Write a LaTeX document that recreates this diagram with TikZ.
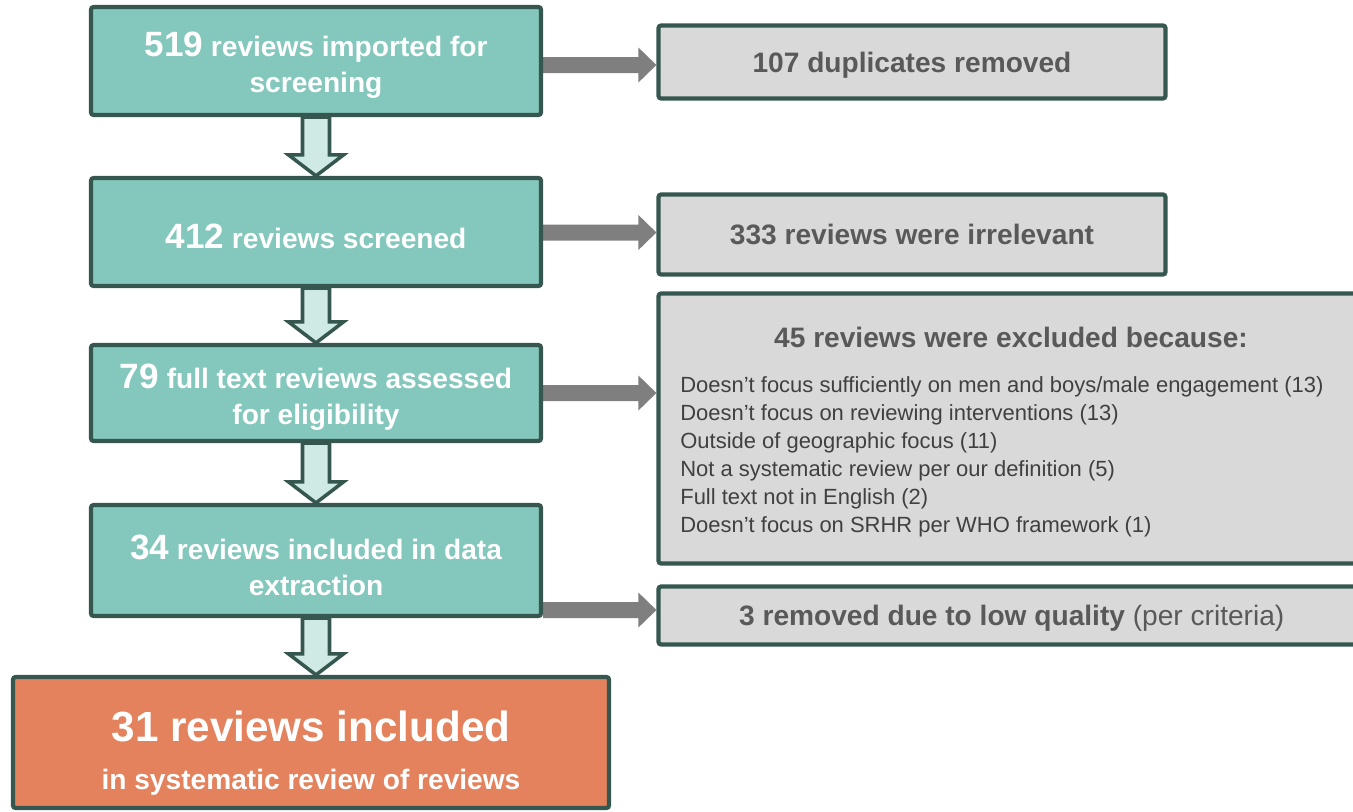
\documentclass[tikz,border=0pt]{standalone}
\usepackage{fontspec}
\setmainfont{Liberation Sans}
\usepackage{xcolor}
\definecolor{cTeal}{HTML}{84C7BC}
\definecolor{cEdge}{HTML}{36574F}
\definecolor{cFlow}{HTML}{CFE9E4}
\definecolor{cOrange}{HTML}{E3825D}
\definecolor{cBox}{HTML}{D9D9D9}
\definecolor{cArrow}{HTML}{7F7F7F}
\definecolor{cGray}{HTML}{595959}
\definecolor{cText}{HTML}{404040}
\usepackage{tikz}
\usetikzlibrary{calc,backgrounds}
\tikzset{
  node-step/.style={draw=cEdge,line width=2.4pt,rounded corners=1.5pt,fill=cTeal,
    text=white,minimum width=9cm,align=center,font=\fontsize{16}{20.5}\selectfont\bfseries},
  node-final/.style={node-step,fill=cOrange,minimum width=11.92cm,minimum height=2.62cm,
    font=\fontsize{16}{27.3}\selectfont\bfseries},
  node-out/.style={draw=cEdge,line width=2.4pt,rounded corners=1.5pt,fill=cBox,
    text=cGray,align=center,font=\fontsize{16}{19}\selectfont},
  arrow-flow/.style={draw=cEdge,line width=2pt,fill=cFlow},
  arrow-side/.style={fill=cArrow},
  list-text/.style={text=cText,align=left,inner sep=0pt,font=\fontsize{12.5}{16}\selectfont},
}
% big count at the start of a box
\newcommand{\bignum}[1]{{\fontsize{20}{20.5}\selectfont\rule{0pt}{19pt}#1}}
% block arrow down, from box #1 to box #2
\newcommand{\flowdown}[2]{%
  \coordinate (tip) at (#1.south |- #2.north);
  \filldraw[arrow-flow] ($(#1.south)+(-0.27,0)$) -- ($(tip)+(-0.27,0.42)$) -- ++(-0.28,0)
    -- (tip) -- ++(0.55,0.42) -- ++(-0.28,0) -- ($(#1.south)+(0.27,0)$) -- cycle;}
% grey arrow right, from box #1 to box #2 at height #3
\newcommand{\flowside}[3]{%
  \fill[arrow-side] ($(#1.east|-0,#3)+(0,0.16)$) -- ($(#2.west|-0,#3)+(-0.36,0.16)$) -- ++(0,0.19)
    -- (#2.west|-0,#3) -- ++(-0.36,-0.35) -- ++(0,0.19) -- ($(#1.east|-0,#3)+(0,-0.16)$) -- cycle;}

\begin{document}
\begin{tikzpicture}
  \useasboundingbox (0,0) rectangle (27.06,-16.22);

  \node[node-step,minimum height=2.16cm] (s1) at (6.32,-1.22)
    {\bignum{519} reviews imported for\\screening};
  \node[node-step,minimum height=2.16cm] (s2) at (6.32,-4.64)
    {\bignum{412} reviews screened};
  \node[node-step,minimum height=1.92cm] (s3) at (6.32,-7.86)
    {\bignum{79} full text reviews assessed\\for eligibility};
  \node[node-step,minimum height=2.22cm] (s4) at (6.32,-11.21)
    {\bignum{34} reviews included in data\\extraction};
  \node[node-final] (fin) at (6.22,-14.85)
    {{\fontsize{24}{25}\selectfont\rule{0pt}{29pt}31 reviews included}\\in systematic review of reviews};

  \node[node-out,font=\fontsize{16}{19}\selectfont\bfseries,minimum width=10.14cm,minimum height=1.46cm]
    (dup) at (18.24,-1.24) {\rule{0pt}{15pt}107 duplicates removed};
  \node[node-out,font=\fontsize{16}{19}\selectfont\bfseries,minimum width=10.14cm,minimum height=1.6cm]
    (irr) at (18.24,-4.69) {333 reviews were irrelevant};
  \node[node-out,minimum width=14.13cm,minimum height=5.4cm] (exc) at (20.235,-8.57) {};
  \node[text=cGray,font=\fontsize{16}{19}\selectfont\bfseries] (exc-head) at (20.22,-6.74)
    {45 reviews were excluded because:};
  \node[list-text,anchor=north west] (exc-list) at (13.6,-7.52)
    {Doesn’t focus sufficiently on men and boys/male engagement (13)\\
     Doesn’t focus on reviewing interventions (13)\\
     Outside of geographic focus (11)\\
     Not a systematic review per our definition (5)\\
     Full text not in English (2)\\
     Doesn’t focus on SRHR per WHO framework (1)};
  \node[node-out,minimum width=14.13cm,minimum height=1.16cm] (low) at (20.235,-12.31)
    {\rule{0pt}{15pt}\textbf{3 removed due to low quality} (per criteria)};

  \begin{scope}[on background layer]
    \flowdown{s1}{s2}
    \flowdown{s2}{s3}
    \flowdown{s3}{s4}
    \flowdown{s4}{fin}
    \flowside{s1}{dup}{-1.30}
    \flowside{s2}{irr}{-4.65}
    \flowside{s3}{exc}{-7.86}
    \flowside{s4}{low}{-12.2}
  \end{scope}
\end{tikzpicture}
\end{document}
